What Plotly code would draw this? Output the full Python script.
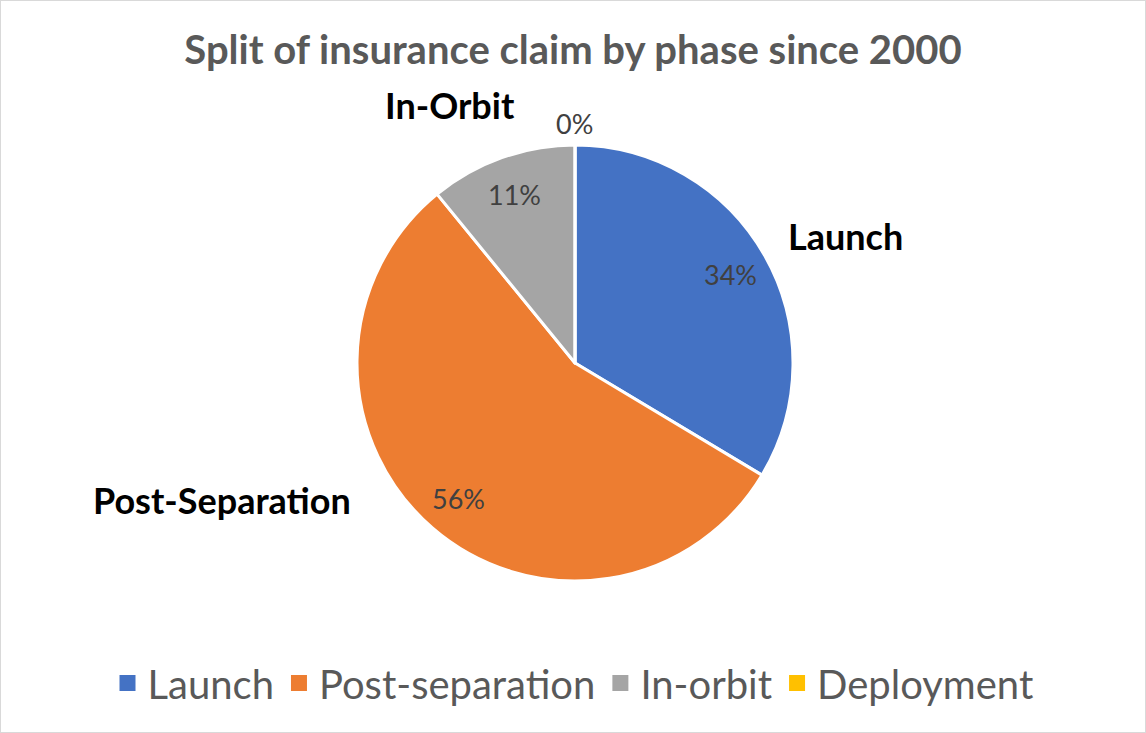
import numpy as np
import plotly.graph_objects as go

categories = ["Launch", "Post-separation", "In-orbit", "Deployment"]
values = [33.6, 55.5, 10.9, 0.0]
colors = ["#4472C4", "#ED7D31", "#A5A5A5", "#FFC000"]
callouts = ["Launch", "Post-Separation", "In-Orbit"]
title = "Split of insurance claim by phase since 2000"

W, H = 1146, 733
cx, cy, r = 575, 363, 218  # pixel center (from top) and radius

fig = go.Figure()
fig.add_trace(go.Pie(
    labels=categories,
    values=values,
    marker=dict(colors=colors, line=dict(color="white", width=3)),
    sort=False,
    direction="clockwise",
    rotation=0,
    textinfo="none",
    hoverinfo="label+percent",
    domain=dict(x=[(cx - r) / W, (cx + r) / W],
                y=[(H - cy - r) / H, (H - cy + r) / H]),
    showlegend=False,
))

# legend entries with larger square swatches
for cat, col in zip(categories, colors):
    fig.add_trace(go.Scatter(
        x=[None], y=[None], mode="markers", name=cat,
        marker=dict(symbol="square", size=16, color=col),
        hoverinfo="skip", showlegend=True))

# percentage labels placed along each slice's mid-angle
total = sum(values)
cum = 0.0
annotations = []
for v in values:
    mid = (cum + v / 2) / total * 2 * np.pi
    cum += v
    dist = 0.82 * r if v > 0 else 1.1 * r
    px = cx + dist * np.sin(mid)
    py = cy - dist * np.cos(mid)
    annotations.append(dict(
        x=px / W, y=1 - py / H, xref="paper", yref="paper",
        text=f"{round(v / total * 100)}%", showarrow=False,
        font=dict(size=27, color="#404040", family="Lato"),
        xanchor="center", yanchor="middle"))

callout_pos = [(846, 236), (222, 500), (450, 105)]
for txt, (px, py) in zip(callouts, callout_pos):
    annotations.append(dict(
        x=px / W, y=1 - py / H, xref="paper", yref="paper",
        text=f"<b>{txt}</b>", showarrow=False,
        font=dict(size=36, color="#000000", family="Lato"),
        xanchor="center", yanchor="middle"))

fig.update_layout(
    width=W, height=H,
    margin=dict(l=0, r=0, t=0, b=0),
    paper_bgcolor="white",
    plot_bgcolor="white",
    xaxis=dict(visible=False),
    yaxis=dict(visible=False),
    title=dict(text=f"<b>{title}</b>", x=0.5, xanchor="center",
               y=1 - 50 / H, yanchor="middle",
               font=dict(size=40, color="#595959", family="Lato")),
    legend=dict(orientation="h", x=0.5, xanchor="center",
                y=1 - 683 / H, yanchor="middle",
                font=dict(size=40, color="#595959", family="Lato"),
                traceorder="normal", itemsizing="trace"),
    annotations=annotations,
    shapes=[dict(type="rect", xref="paper", yref="paper", x0=0, y0=0, x1=1, y1=1,
                 line=dict(color="#D9D9D9", width=2))],
)

fig.write_html("out.html",
               config={"displayModeBar": False},
               post_script="document.body.style.margin='0px';"
                           "document.body.style.overflow='hidden';")
